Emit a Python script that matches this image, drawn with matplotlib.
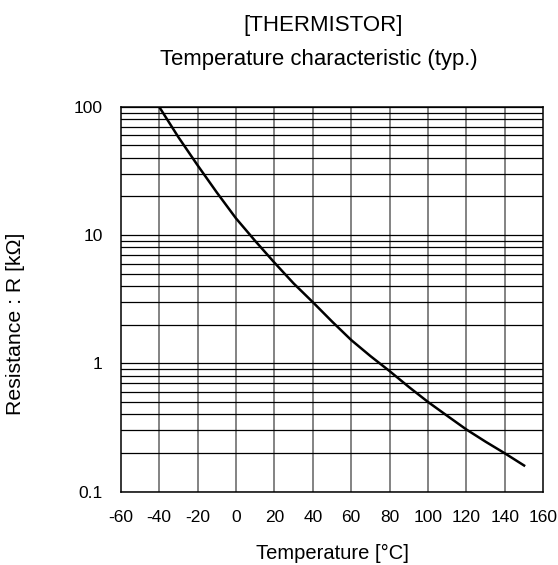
import matplotlib
matplotlib.use('Agg')
import matplotlib.pyplot as plt
from matplotlib.ticker import FixedLocator, NullFormatter, LogLocator

plt.rcParams['font.family'] = ['Liberation Sans', 'DejaVu Sans']

# data
temp_c = [-40, -30, -20, -10, 0, 10, 20, 30, 40, 50, 60, 70, 80, 90, 100, 110, 120, 130, 140, 150]
res_kohm = [100, 58, 35, 21.5, 13.5, 9.0, 6.1, 4.2, 3.0, 2.12, 1.52, 1.14, 0.87, 0.655, 0.50, 0.39, 0.305, 0.245, 0.199, 0.16]

x_ticks = [-60, -40, -20, 0, 20, 40, 60, 80, 100, 120, 140, 160]
y_ticks = [0.1, 1, 10, 100]
y_labels = ['0.1', '1', '10', '100']

W, H = 558, 565
fig = plt.figure(figsize=(W / 100, H / 100), dpi=100)
ax = fig.add_axes([120.7 / W, 1 - 491.7 / H, (543.3 - 120.7) / W, (491.7 - 106.7) / H])

ax.set_yscale('log')
ax.set_xlim(-60, 160)
ax.set_ylim(0.1, 100)

# grid: vertical grey, horizontal black
for xv in x_ticks[1:-1]:
    ax.axvline(xv, color='#7a7a7a', lw=1.3, zorder=1)
ax.yaxis.set_major_locator(FixedLocator(y_ticks))
ax.yaxis.set_minor_locator(LogLocator(base=10, subs=range(2, 10)))
ax.yaxis.set_minor_formatter(NullFormatter())
ax.grid(True, which='both', axis='y', color='black', lw=0.9, zorder=1)

ax.plot(temp_c, res_kohm, color='black', lw=1.8, zorder=3)

ax.set_xticks(x_ticks)
ax.set_xticklabels([str(t) for t in x_ticks])
ax.set_yticks(y_ticks)
ax.set_yticklabels(y_labels)
ax.tick_params(axis='both', which='both', length=0, labelsize=12.5)
ax.tick_params(axis='x', pad=13)
ax.tick_params(axis='y', pad=13)
for s in ax.spines.values():
    s.set_linewidth(1.1)
    s.set_color('black')

fig.text(323 / W, 1 - 31.5 / H, '[THERMISTOR]', ha='center', va='baseline', fontsize=16)
fig.text(319 / W, 1 - 65.5 / H, 'Temperature characteristic (typ.)', ha='center', va='baseline', fontsize=15.9)
fig.text(332.8 / W, 1 - 559 / H, 'Temperature [°C]', ha='center', va='baseline', fontsize=14.5)
fig.text(16 / W, 1 - 324 / H, 'Resistance : R [kΩ]', ha='center', va='center', rotation=90, fontsize=15.3)

fig.savefig('out.png', dpi=100)
